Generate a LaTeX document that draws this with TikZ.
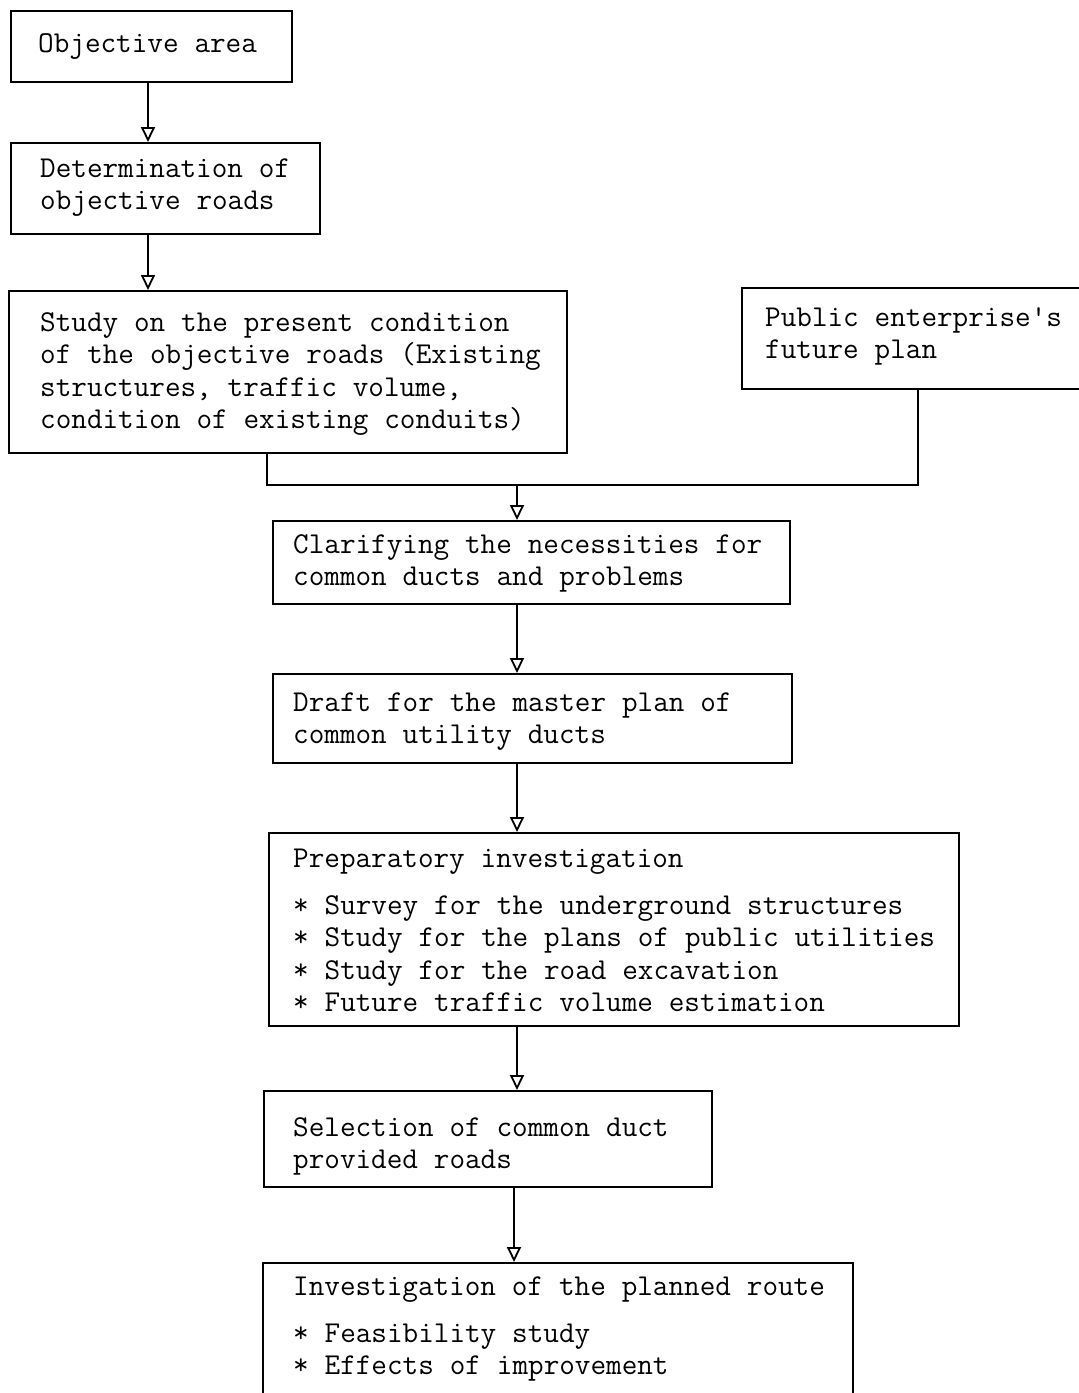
\documentclass[tikz,border=0pt]{standalone}
\usepackage{fontspec}
\usetikzlibrary{arrows.meta}
\newcommand\boxfont{\ttfamily\fontsize{30.3}{32.5}\selectfont}
\newcommand\fixspace{\fontdimen2\font=15.9pt\relax\fontdimen3\font=0pt\relax\fontdimen4\font=0pt\relax\spaceskip=15.9pt\relax\xspaceskip=15.9pt\relax}
\begin{document}
\begin{tikzpicture}[x=1pt,y=-1pt,
  box/.style={draw, line width=2.2pt, inner sep=0pt, anchor=north west},
  txt/.style={font=\boxfont, text width=800pt, align=left, inner sep=0pt, anchor=base west, execute at begin node=\fixspace},
  arr/.style={line width=2.2pt, -{Triangle[open, length=15pt, width=14pt, line width=1.8pt]}},
  conn/.style={line width=2.2pt}
]
\useasboundingbox (0,0) rectangle (1079,1393);
\fill[white] (0,0) rectangle (1079,1393);

% boxes
\node[box, minimum width=281pt, minimum height=71pt] (b1) at (10,10) {};
\node[box, minimum width=309pt, minimum height=91pt] (b2) at (10,142) {};
\node[box, minimum width=558pt, minimum height=162pt] (b3) at (8,290) {};
\node[box, minimum width=380pt, minimum height=101pt] (b4) at (741,287) {};
\node[box, minimum width=517pt, minimum height=83pt] (b5) at (272,520) {};
\node[box, minimum width=519pt, minimum height=89pt] (b6) at (272,673) {};
\node[box, minimum width=690pt, minimum height=193pt] (b7) at (268,832) {};
\node[box, minimum width=448pt, minimum height=96pt] (b8) at (263,1090) {};
\node[box, minimum width=590pt, minimum height=160pt] (b9) at (262,1262) {};

% texts
\node[txt] (t1) at (38,52) {Objective area};
\node[txt] (t2) at (40,177) {Determination of\\objective roads};
\node[txt] (t3) at (40,331) {Study on the present condition\\of the objective roads (Existing\\structures, traffic volume,\\condition of existing conduits)};
\node[txt] (t4) at (765,326) {Public enterprise's\\future plan};
\node[txt] (t5) at (293,553) {Clarifying the necessities for\\common ducts and problems};
\node[txt] (t6) at (293,711) {Draft for the master plan of\\common utility ducts};
\node[txt] (t7) at (293,867) {Preparatory investigation\\[14.5pt]{}* Survey for the underground structures\\{}* Study for the plans of public utilities\\{}* Study for the road excavation\\{}* Future traffic volume estimation};
\node[txt] (t8) at (293,1136) {Selection of common duct\\provided roads};
\node[txt] (t9) at (293,1295) {Investigation of the planned route\\[14.5pt]{}* Feasibility study\\{}* Effects of improvement};

% connector coordinates
\coordinate (x1) at (148,0);
\coordinate (j1) at (267,485);
\coordinate (j2) at (918,485);
\coordinate (jm) at (517,485);
\coordinate (x2) at (517,0);
\coordinate (x3) at (514,0);

% connectors
\draw[arr] (b1.south -| x1) -- (b2.north -| x1);
\draw[arr] (b2.south -| x1) -- (b3.north -| x1);
\draw[conn] (b3.south -| j1) -- (j1) -- (j2) -- (b4.south -| j2);
\draw[arr] (jm) -- (b5.north -| jm);
\draw[arr] (b5.south -| x2) -- (b6.north -| x2);
\draw[arr] (b6.south -| x2) -- (b7.north -| x2);
\draw[arr] (b7.south -| x2) -- (b8.north -| x2);
\draw[arr] (b8.south -| x3) -- (b9.north -| x3);
\end{tikzpicture}
\end{document}
